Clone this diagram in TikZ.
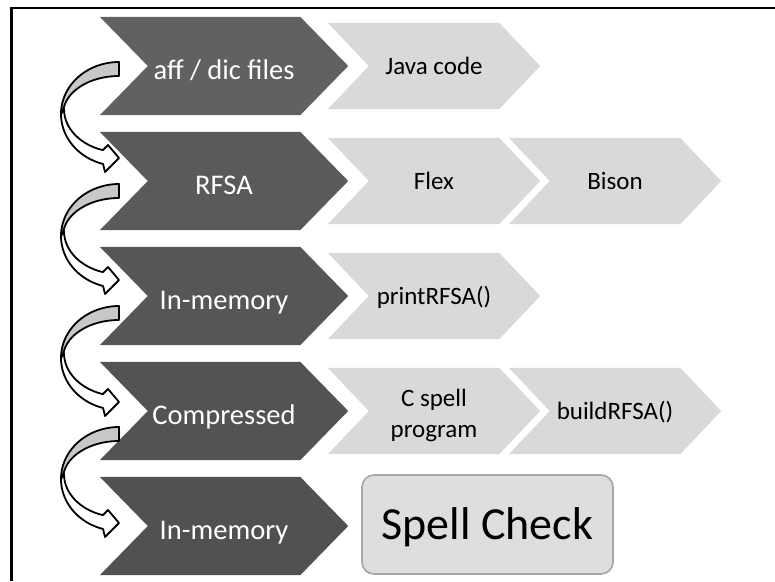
\documentclass[tikz,border=0pt]{standalone}
\usepackage{fontspec}
\setmainfont{Carlito}
\usetikzlibrary{calc}

\definecolor{darkA}{HTML}{616161}
\definecolor{darkB}{HTML}{5A5A5A}
\definecolor{darkC}{HTML}{565656}
\definecolor{darkD}{HTML}{535353}
\definecolor{darkE}{HTML}{515151}
\definecolor{lightstepfill}{HTML}{D9D9D9}
\definecolor{backgray}{HTML}{C8C8C8}
\definecolor{boxfill}{HTML}{DEDEDE}
\definecolor{boxline}{HTML}{A6A6A6}

\pgfdeclarelayer{background}
\pgfsetlayers{background,main}

% chevron body behind a named node: node, tip depth, colour
\newcommand\chevfill[3]{%
  \fill[#3] (#1.north west) -- ([xshift=-#2]#1.north east) -- (#1.east)
    -- ([xshift=-#2]#1.south east) -- (#1.south west) -- ([xshift=#2]#1.west) -- cycle;}

\tikzset{
  darkstep/.style={minimum width=248pt, minimum height=98pt, inner sep=0pt,
    text=white, font=\fontsize{28.5}{34}\selectfont,
    text height=34.2pt, text depth=6.3pt},
  lightstep/.style={minimum width=212pt, minimum height=86pt, inner sep=0pt,
    text=black, font=\fontsize{25}{31}\selectfont,
    text height=21.3pt, text depth=5.3pt},
  finalbox/.style={minimum width=251pt, minimum height=99pt, inner sep=0pt,
    draw=boxline, fill=boxfill, line width=1.6pt, rounded corners=12pt,
    text=black, font=\fontsize{46}{55}\selectfont,
    text height=39pt, text depth=9pt},
  ribbon/.style={draw=black, line width=1.8pt, line join=round},
  bendarrow/.pic={
    % back side of the ribbon
    \filldraw[ribbon, fill=backgray]
      plot[domain=270:180, samples=30] ({58*cos(\x)},{52+52*sin(\x)})
      -- plot[domain=180:270, samples=30] ({56*cos(\x)},{52+38*sin(\x)}) -- cycle;
    % front side with the arrow head
    \filldraw[ribbon, fill=white]
      plot[domain=180:106, samples=30] ({58*cos(\x)},{52+52*sin(\x)})
      -- (-14,110) -- (0,96) -- (-11,83) -- (-16,88)
      -- plot[domain=107:180, samples=30] ({55*cos(\x)},{47+43*sin(\x)}) -- cycle;
  }
}

\begin{document}
\begin{tikzpicture}[x=1pt, y=-1pt]
  \useasboundingbox (0,0) rectangle (775,581);

  % frame
  \draw[line width=2.6pt] (775,8) -- (11.5,8) -- (11.5,581);

  % main stages
  \node[darkstep] (d1) at (224,66)  {aff / dic files};
  \node[darkstep] (d2) at (224,181) {RFSA};
  \node[darkstep] (d3) at (224,296) {In-memory};
  \node[darkstep] (d4) at (224,411) {Compressed};
  \node[darkstep] (d5) at (224,526) {In-memory};

  % tools
  \node[lightstep] (l1)  at (434,66)  {Java code};
  \node[lightstep] (l2a) at (434,181) {Flex};
  \node[lightstep] (l2b) at (615,181) {Bison};
  \node[lightstep] (l3)  at (434,296) {printRFSA()};
  \node[lightstep, text height=60pt, text depth=8pt] (l4a) at (434,411)
    {\parbox[b]{150pt}{\centering C spell\\program}};
  \node[lightstep] (l4b) at (615,411) {buildRFSA()};

  \node[finalbox] (sc) at (487.5,524.5) {Spell Check};

  \begin{pgfonlayer}{background}
    \chevfill{d1}{48pt}{darkA}
    \chevfill{d2}{48pt}{darkB}
    \chevfill{d3}{48pt}{darkC}
    \chevfill{d4}{48pt}{darkD}
    \chevfill{d5}{48pt}{darkE}
    \chevfill{l1}{41pt}{lightstepfill}
    \chevfill{l2a}{41pt}{lightstepfill}
    \chevfill{l2b}{41pt}{lightstepfill}
    \chevfill{l3}{41pt}{lightstepfill}
    \chevfill{l4a}{41pt}{lightstepfill}
    \chevfill{l4b}{41pt}{lightstepfill}
  \end{pgfonlayer}

  % curved arrows from one stage to the next
  \pic at (119,62)  {bendarrow};
  \pic at (119,184) {bendarrow};
  \pic at (119,306) {bendarrow};
  \pic at (119,427) {bendarrow};
\end{tikzpicture}
\end{document}
